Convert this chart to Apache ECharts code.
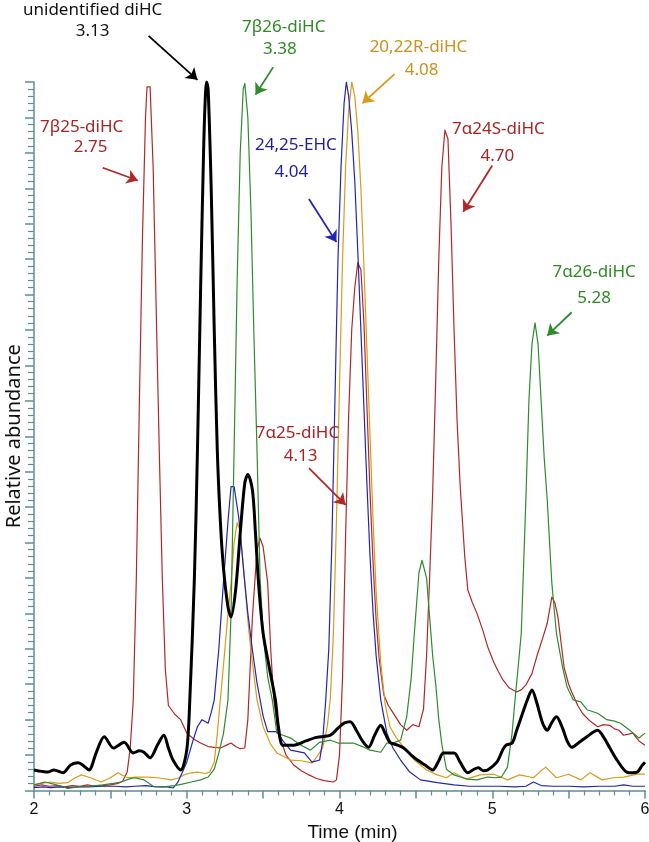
<!DOCTYPE html>
<html>
<head>
<meta charset="utf-8">
<script src="https://cdn.jsdelivr.net/npm/echarts@6/dist/echarts.min.js"></script>
<style>
  html, body { margin: 0; padding: 0; background: #fff; }
  #chart { width: 649px; height: 842px; }
</style>
</head>
<body>
<div id="chart"></div>
<script>
// time (min), relative abundance (%)
const redTrace = [
  [2.00,0.6],[2.05,0.8],[2.10,0.6],[2.15,0.7],[2.20,0.5],[2.25,0.7],[2.30,0.6],[2.35,0.8],[2.40,0.6],[2.45,0.7],
  [2.50,0.8],[2.55,1.0],[2.58,1.3],[2.61,2.6],[2.63,6],[2.65,12.8],[2.67,30],[2.69,55],[2.71,78],[2.73,95],
  [2.74,99.3],[2.76,99.3],[2.78,88],[2.80,68],[2.82,48],[2.84,30],[2.86,17],[2.88,12],[2.92,10.8],[2.96,10],
  [3.00,8.1],[3.05,7.2],[3.09,6.7],[3.14,6.2],[3.18,6.1],[3.22,6.0],[3.26,6.4],[3.29,6.7],[3.32,6.2],[3.35,5.9],
  [3.38,6.0],[3.40,10],[3.43,24.5],[3.46,34],[3.48,35.6],[3.50,34.4],[3.53,29.3],[3.55,19.8],[3.57,12.8],[3.60,8.0],
  [3.65,5.0],[3.70,3.6],[3.75,2.8],[3.80,2.2],[3.85,1.7],[3.90,1.4],[3.96,1.2],[3.98,1.5],[4.00,5],[4.02,16],
  [4.04,36],[4.06,53],[4.08,65],[4.10,71],[4.12,74.5],[4.14,73.5],[4.16,66],[4.18,54],[4.20,42],[4.22,32],
  [4.24,24],[4.26,18.5],[4.29,13.5],[4.32,12],[4.35,11],[4.40,9.3],[4.44,8.5],[4.48,9.3],[4.52,9.0],[4.55,11.5],
  [4.57,19],[4.59,30],[4.61,42],[4.63,58],[4.65,75],[4.67,88],[4.69,93.2],[4.71,92],[4.73,80],[4.75,65],
  [4.77,52],[4.79,43],[4.82,33],[4.84,28.3],[4.87,26.5],[4.90,25],[4.94,22.5],[4.97,20.3],[5.01,18.1],[5.04,16.8],
  [5.07,15.6],[5.11,14.5],[5.16,13.9],[5.19,14.2],[5.22,14.9],[5.26,16.5],[5.29,18.8],[5.33,21.5],[5.36,23.6],[5.39,27.3],
  [5.41,26.5],[5.43,24.5],[5.45,21],[5.47,17.4],[5.50,15],[5.52,13.9],[5.56,12],[5.59,10.9],[5.64,9.8],[5.69,9.0],
  [5.73,9.3],[5.77,9.2],[5.80,8.7],[5.83,8.5],[5.86,7.8],[5.90,8.0],[5.92,8.1],[5.96,7.0],[6.00,6.4]
];

const greenTrace = [
  [2.00,0.8],[2.04,1.0],[2.07,1.2],[2.13,0.9],[2.18,0.6],[2.22,0.3],[2.29,0.5],[2.36,0.6],[2.45,0.8],[2.52,1.0],
  [2.57,1.2],[2.62,1.6],[2.66,1.8],[2.72,1.5],[2.78,0.6],[2.85,0.5],[2.92,0.7],[2.97,0.9],[3.03,1.2],[3.09,1.5],
  [3.14,1.9],[3.18,3],[3.21,5.3],[3.24,8],[3.27,12.8],[3.29,25],[3.31,48],[3.33,72],[3.35,90],[3.37,99],
  [3.38,99.8],[3.40,95],[3.42,82],[3.44,64],[3.46,48],[3.48,30],[3.50,22],[3.53,16],[3.56,12.8],[3.59,8.1],
  [3.63,7.8],[3.68,7.4],[3.74,6.5],[3.81,5.7],[3.87,6.8],[3.94,7.1],[3.99,6.7],[4.09,6.7],[4.15,6.2],[4.20,5.7],
  [4.27,5.4],[4.31,6.7],[4.36,6.8],[4.40,7.1],[4.44,10.4],[4.47,16],[4.49,22.2],[4.52,30.7],[4.54,32.5],[4.57,30],
  [4.59,24.5],[4.61,19],[4.63,15],[4.65,10],[4.67,6.5],[4.70,3.0],[4.75,2.2],[4.79,1.9],[4.84,1.6],[4.90,1.5],
  [4.97,1.9],[5.02,1.8],[5.06,1.9],[5.10,3.3],[5.13,8.1],[5.15,13],[5.17,17.5],[5.19,22.2],[5.22,41],[5.24,55],
  [5.26,63],[5.28,66],[5.30,63],[5.32,55],[5.34,47],[5.36,41],[5.39,29.3],[5.42,22.2],[5.46,17.4],[5.49,14.6],
  [5.53,12.8],[5.58,12.5],[5.62,11.4],[5.69,10.9],[5.75,10],[5.80,9.8],[5.84,9.5],[5.90,8.5],[5.96,7.4],[6.00,8.1]
];

const blueTrace = [
  [2.00,0.4],[2.06,0.5],[2.11,0.4],[2.17,0.5],[2.22,0.4],[2.29,0.5],[2.36,0.5],[2.44,0.6],[2.53,0.6],[2.60,0.5],
  [2.66,0.6],[2.73,0.7],[2.80,0.5],[2.87,0.5],[2.91,0.35],[2.94,1.1],[2.97,2.5],[3.00,4],[3.04,7],[3.07,9],
  [3.10,10],[3.14,9.5],[3.16,11],[3.18,12.8],[3.21,20],[3.24,29.3],[3.27,38],[3.29,42.9],[3.31,42.9],[3.34,38.6],
  [3.36,34],[3.38,29.3],[3.40,25],[3.43,19.8],[3.46,15.2],[3.50,10.5],[3.53,8.3],[3.59,8.3],[3.63,7],[3.68,5.7],
  [3.77,5.3],[3.82,4.0],[3.87,4.3],[3.89,7],[3.91,12.8],[3.93,20],[3.95,35],[3.97,55],[3.99,75],[4.01,88],
  [4.03,97],[4.045,100],[4.06,98],[4.08,93],[4.10,86],[4.12,76],[4.14,65],[4.16,54],[4.18,43],[4.20,33],
  [4.22,25],[4.24,19],[4.27,12.8],[4.31,8.1],[4.35,6],[4.40,4.3],[4.46,2.6],[4.53,1.5],[4.64,1.1],[4.75,0.8],
  [4.85,0.6],[4.95,0.6],[5.05,0.6],[5.15,0.5],[5.22,0.6],[5.27,1.2],[5.32,0.7],[5.40,0.6],[5.50,0.6],[5.60,0.5],
  [5.70,0.6],[5.80,0.6],[5.86,0.8],[5.92,0.6],[6.00,0.6]
];

const goldTrace = [
  [2.00,0.8],[2.05,1.0],[2.11,1.2],[2.16,1.0],[2.22,1.1],[2.27,1.8],[2.31,2.2],[2.37,1.8],[2.44,1.2],[2.50,1.8],
  [2.55,2.5],[2.61,1.8],[2.67,1.9],[2.74,1.9],[2.81,1.8],[2.90,1.5],[2.95,1.8],[2.98,2.2],[3.03,2.5],[3.07,2.6],
  [3.12,2.4],[3.15,2.6],[3.18,4],[3.20,8],[3.22,12.8],[3.25,20],[3.27,25],[3.29,29.3],[3.31,35],[3.33,37.8],
  [3.35,36.7],[3.38,29.3],[3.40,24],[3.42,19.8],[3.46,12.8],[3.50,9],[3.55,6.5],[3.59,5.3],[3.68,4.3],[3.75,4.2],
  [3.82,3.9],[3.85,4.7],[3.89,6],[3.92,9],[3.94,13],[3.96,22],[3.98,38],[4.00,57],[4.02,75],[4.04,88],
  [4.06,96],[4.08,100],[4.10,98],[4.12,93],[4.14,85],[4.16,74],[4.18,62],[4.20,50],[4.22,38],[4.24,28],
  [4.27,18],[4.30,12],[4.33,9],[4.37,7.5],[4.42,6.1],[4.49,4.3],[4.57,2.9],[4.64,2.2],[4.70,1.8],[4.75,2.5],
  [4.83,1.6],[4.92,2.2],[5.01,2.3],[5.10,1.5],[5.18,2.2],[5.27,1.8],[5.31,2.6],[5.35,3.3],[5.42,1.8],[5.50,2.3],
  [5.58,1.5],[5.64,2.5],[5.72,1.5],[5.79,1.8],[5.86,1.9],[5.95,2.3],[6.00,2.3]
];

const blackTrace = [
  [2.00,2.9],[2.05,2.7],[2.09,2.6],[2.13,2.9],[2.19,2.5],[2.24,3.6],[2.29,3.9],[2.33,3.4],[2.36,2.9],[2.41,5.5],
  [2.46,7.6],[2.52,6.0],[2.59,6.8],[2.65,5.3],[2.69,5.6],[2.72,5.4],[2.76,4.6],[2.81,6.5],[2.85,7.8],[2.88,6.0],
  [2.91,4.3],[2.96,2.9],[3.00,5.7],[3.02,12.8],[3.05,30],[3.07,48],[3.09,70],[3.11,90],[3.12,97],[3.13,100],
  [3.14,99],[3.16,85],[3.18,65],[3.20,48],[3.22,38],[3.24,31.5],[3.27,25.9],[3.29,24.5],[3.32,28.3],[3.35,36.3],
  [3.38,43.4],[3.40,44.6],[3.43,42.4],[3.45,36.3],[3.47,29.3],[3.50,22.2],[3.54,17.4],[3.58,12.8],[3.60,9],[3.63,6.4],
  [3.70,6.4],[3.78,7.0],[3.85,7.5],[3.94,7.8],[3.99,8.8],[4.03,9.5],[4.07,9.7],[4.11,8.5],[4.15,7.0],[4.19,6.1],
  [4.23,7.8],[4.27,9.2],[4.30,8.0],[4.33,6.8],[4.38,6.4],[4.42,6.0],[4.47,5.0],[4.51,4.3],[4.56,3.6],[4.61,2.9],
  [4.65,4.2],[4.68,5.3],[4.75,5.3],[4.79,4.0],[4.84,2.5],[4.88,3.0],[4.91,3.2],[4.94,2.8],[4.97,2.9],[5.03,4.0],
  [5.07,5.8],[5.09,6.4],[5.13,6.7],[5.16,8.5],[5.20,11],[5.23,12.8],[5.26,14.2],[5.29,12.5],[5.33,9.5],[5.36,8.5],
  [5.39,9.6],[5.42,10.4],[5.46,8.8],[5.49,7],[5.52,6.1],[5.57,6.8],[5.62,7.6],[5.69,8.5],[5.73,7.5],[5.77,6.0],
  [5.82,4.2],[5.88,2.6],[5.92,2.5],[5.95,2.6],[5.98,3.5],[6.00,4.0]
];

// annotation text lines: [time, abundance, text, colour key]
const noteLines = [
  [2.384, 110.2, 'unidentified diHC', 'black'],
  [2.384, 107.2, '3.13', 'black'],
  [3.635, 107.8, '7β26-diHC', 'green'],
  [3.610, 104.7, '3.38', 'green'],
  [4.517, 104.9, '20,22R-diHC', 'gold'],
  [4.537, 101.7, '4.08', 'gold'],
  [2.312, 93.6, '7β25-diHC', 'red'],
  [2.371, 90.8, '2.75', 'red'],
  [3.715, 91.1, '24,25-EHC', 'blue'],
  [3.685, 87.3, '4.04', 'blue'],
  [5.040, 93.4, '7α24S-diHC', 'red'],
  [5.033, 89.6, '4.70', 'red'],
  [5.667, 73.2, '7α26-diHC', 'green'],
  [5.667, 69.5, '5.28', 'green'],
  [3.725, 50.4, '7α25-diHC', 'red'],
  [3.745, 47.2, '4.13', 'red']
];

// arrows: [[from time, from abundance], [to time, to abundance], colour key]
const noteArrows = [
  [[2.75, 106.5], [3.07, 100.3], 'black'],
  [[3.566, 102.1], [3.45, 98.2], 'green'],
  [[4.36, 101.1], [4.15, 97.0], 'gold'],
  [[2.45, 87.9], [2.68, 86.1], 'red'],
  [[3.80, 83.5], [3.98, 77.4], 'blue'],
  [[5.00, 88.2], [4.81, 81.7], 'red'],
  [[5.52, 67.5], [5.36, 64.2], 'green'],
  [[3.80, 45.5], [4.04, 40.3], 'red']
];

const xTicks = { min: 2, max: 6, step: 0.5 };

const colors = {
  red: '#b02828',
  green: '#2e8b2e',
  blue: '#2424b0',
  gold: '#d69c1c',
  black: '#000000'
};
const textColors = {
  red: '#a82424',
  green: '#2f8a24',
  blue: '#1e1ea0',
  gold: '#c8921c',
  black: '#111111'
};
const axisColor = '#5f8f8f';

const chart = echarts.init(document.getElementById('chart'), null, { renderer: 'canvas' });

function trace(name, data, color, width, z, smooth) {
  return {
    name: name,
    type: 'line',
    data: data,
    showSymbol: false,
    symbol: 'none',
    smooth: smooth || false,
    z: z,
    lineStyle: { color: color, width: width, join: 'round' },
    itemStyle: { color: color },
    animation: false
  };
}

chart.setOption({
  animation: false,
  grid: { left: 34, right: 4, top: 82, bottom: 51.5, outerBoundsMode: 'none', containLabel: false },
  xAxis: {
    type: 'value',
    min: xTicks.min,
    max: xTicks.max,
    interval: xTicks.step,
    name: 'Time (min)',
    nameLocation: 'middle',
    nameGap: 33,
    nameTextStyle: { fontFamily: 'Liberation Sans', fontSize: 19, color: '#111', padding: [0, 0, 0, 26] },
    axisLine: { lineStyle: { color: axisColor, width: 1.5 } },
    axisTick: { show: true, length: 8, lineStyle: { color: axisColor, width: 1.5 } },
    minorTick: { show: true, splitNumber: 5, length: 5, lineStyle: { color: axisColor, width: 1.2 } },
    splitLine: { show: false },
    axisLabel: {
      fontFamily: 'Liberation Sans',
      fontSize: 16,
      color: '#111',
      margin: 11,
      formatter: function (v) { return Number.isInteger(v) ? String(v) : ''; }
    }
  },
  yAxis: {
    type: 'value',
    min: 0,
    max: 100,
    interval: 5,
    name: 'Relative abundance',
    nameLocation: 'middle',
    nameRotate: 90,
    nameGap: 10,
    nameTextStyle: { fontFamily: 'Noto Sans', fontSize: 20, color: '#111' },
    axisLine: { show: true, lineStyle: { color: axisColor, width: 1.5 } },
    axisTick: { show: true, length: 9, lineStyle: { color: axisColor, width: 1.5 } },
    minorTick: { show: true, splitNumber: 5, length: 6, lineStyle: { color: axisColor, width: 1.2 } },
    splitLine: { show: false },
    axisLabel: { show: false }
  },
  series: [
    trace('red', redTrace, colors.red, 1.2, 2),
    trace('gold', goldTrace, colors.gold, 1.2, 2),
    trace('blue', blueTrace, colors.blue, 1.2, 2),
    trace('green', greenTrace, colors.green, 1.2, 2),
    trace('black', blackTrace, colors.black, 3, 3, 0.3),
    {
      name: 'arrows',
      type: 'lines',
      coordinateSystem: 'cartesian2d',
      clip: false,
      z: 4,
      symbol: ['none', 'arrow'],
      symbolSize: 11,
      lineStyle: { width: 1.8, opacity: 1, curveness: 0 },
      data: noteArrows.map(function (a) {
        return { coords: [a[0], a[1]], lineStyle: { color: colors[a[2]] } };
      })
    },
    {
      name: 'notes',
      type: 'scatter',
      clip: false,
      z: 5,
      symbolSize: 1,
      itemStyle: { color: 'rgba(0,0,0,0)', opacity: 1 },
      data: noteLines.map(function (n) {
        return {
          value: [n[0], n[1]],
          name: n[2],
          label: {
            show: true,
            position: 'inside',
            formatter: n[2],
            color: textColors[n[3]],
            opacity: 1,
            textBorderWidth: 0,
            fontFamily: 'Noto Sans',
            fontSize: 17
          }
        };
      })
    }
  ]
});
</script>
</body>
</html>
